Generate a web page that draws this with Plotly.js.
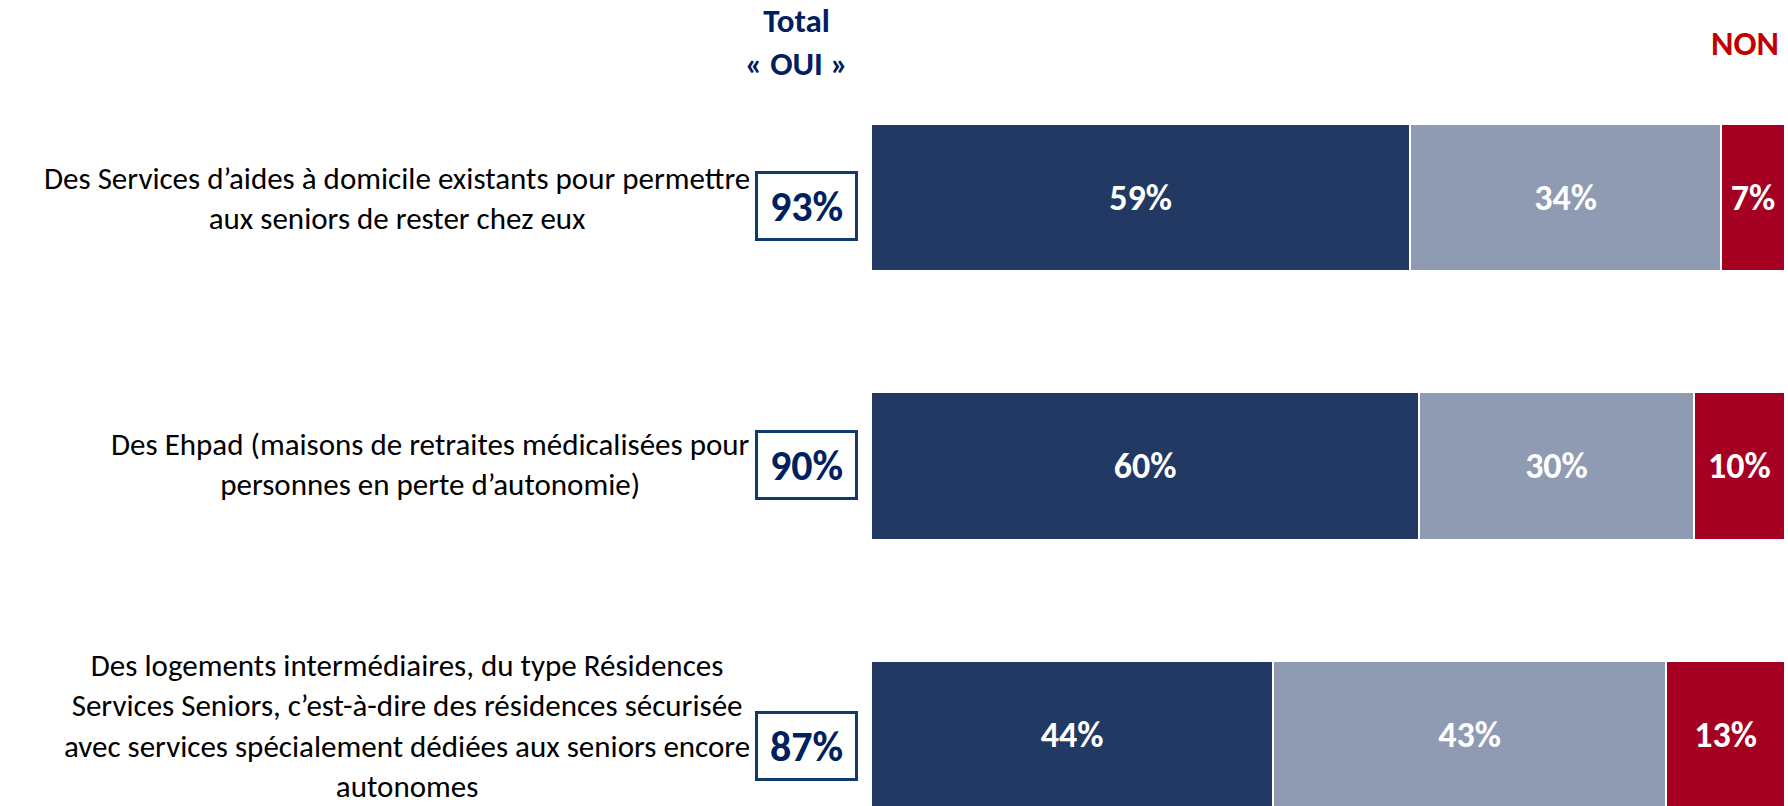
<!DOCTYPE html>
<html>
<head>
<meta charset="utf-8">
<script src="https://cdn.plot.ly/plotly-3.0.1.min.js"></script>
<style>
html,body{margin:0;padding:0;background:#fff;}
#chart{width:1788px;height:806px;}
</style>
</head>
<body>
<div id="chart"></div>
<script>
const categories = [
  "Des Services d’aides à domicile existants pour permettre<br>aux seniors de rester chez eux",
  "Des Ehpad (maisons de retraites médicalisées pour<br>personnes en perte d’autonomie)",
  "Des logements intermédiaires, du type Résidences<br>Services Seniors, c’est-à-dire des résidences sécurisée<br>avec services spécialement dédiées aux seniors encore<br>autonomes"
];
const ouiTout = [59, 60, 44];
const ouiPlutot = [34, 30, 43];
const non = [7, 10, 13];
const totalOui = [93, 90, 87];
const headerOui = "Total<br>« OUI »";
const headerNon = "NON";

const W = 1788, H = 806;
const FONT = "Carlito, Lato, Liberation Sans, Arial, sans-serif";
const NAVY = "#213963", GREY = "#8f9bb2", RED = "#a50021";
const BOX_Y_PX = [206, 464.5, 746];
const LABEL_SHIFT = [0, 2, 9];

const yIdx = categories.map((_, i) => i);
function pxX(p){ return (p - 871) / (W - 871 - 3); }
function pxY(p){ return 1 - p / H; }

function barTrace(vals, color){
  return {
    type: "bar", orientation: "h",
    x: vals, y: yIdx,
    width: 0.548,
    marker: {color: color, line: {color: "#ffffff", width: 2}},
    text: vals.map(v => v + "%"),
    textposition: "inside", insidetextanchor: "middle",
    textfont: {family: FONT, size: 36, color: "#ffffff", weight: "bold"},
    hoverinfo: "skip", cliponaxis: false
  };
}

const data = [barTrace(ouiTout, NAVY), barTrace(ouiPlutot, GREY), barTrace(non, RED)];

const annotations = [];
categories.forEach((c, i) => {
  annotations.push({
    xref: "paper", yref: "y", x: pxX(752), y: i, yshift: LABEL_SHIFT[i],
    xanchor: "right", yanchor: "middle", align: "center",
    text: c, showarrow: false,
    font: {family: FONT, size: 31, color: "#000000"}
  });
  annotations.push({
    xref: "paper", yref: "paper", x: pxX(806.5), y: pxY(BOX_Y_PX[i]),
    xanchor: "center", yanchor: "middle", align: "center",
    text: "<b>" + totalOui[i] + "%</b>", showarrow: false,
    width: 97, height: 64, borderwidth: 3, borderpad: 0,
    bordercolor: "#0e3a6e", bgcolor: "#ffffff",
    font: {family: FONT, size: 42, color: "#002060"}
  });
});
annotations.push({
  xref: "paper", yref: "paper", x: pxX(796), y: pxY(42),
  xanchor: "center", yanchor: "middle", align: "center",
  text: "<b>" + headerOui + "</b>", showarrow: false,
  font: {family: FONT, size: 33, color: "#002060"}
});
annotations.push({
  xref: "paper", yref: "paper", x: pxX(1745), y: pxY(43),
  xanchor: "center", yanchor: "middle", align: "center",
  text: "<b>" + headerNon + "</b>", showarrow: false,
  font: {family: FONT, size: 34, color: "#c00000"}
});

const layout = {
  width: W, height: H,
  margin: {l: 871, r: 3, t: 0, b: 0, pad: 0},
  barmode: "stack", bargap: 0,
  showlegend: false,
  paper_bgcolor: "#ffffff", plot_bgcolor: "#ffffff",
  xaxis: {range: [0, 100], visible: false, fixedrange: true},
  yaxis: {range: [2.2663, -0.7356], visible: false, fixedrange: true},
  annotations: annotations
};

Plotly.newPlot("chart", data, layout, {displayModeBar: false, staticPlot: true});
</script>
</body>
</html>
